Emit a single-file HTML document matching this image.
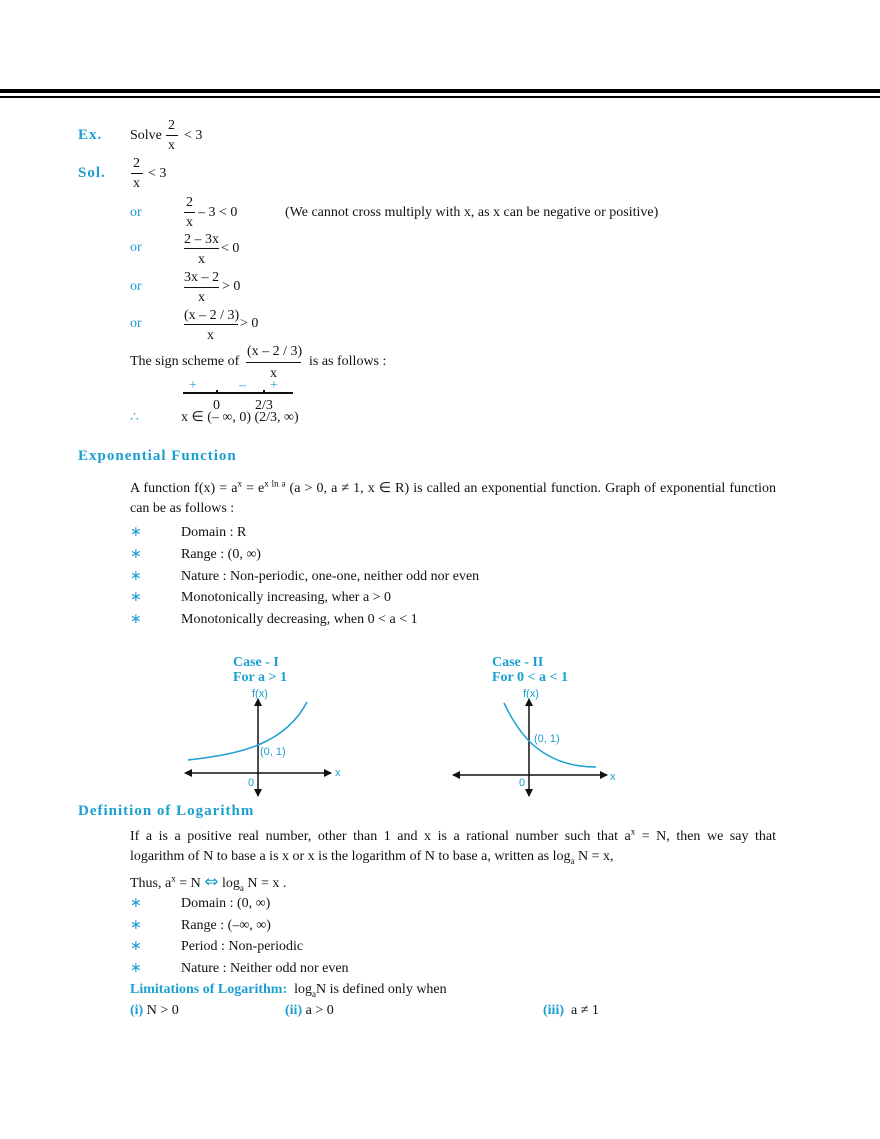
<!DOCTYPE html>
<html><head><meta charset="utf-8"><style>
body{margin:0;width:880px;height:1139px;background:#fff;position:relative;font-family:"Liberation Serif",serif;font-size:14px;color:#111;overflow:hidden}
.t{position:absolute;white-space:nowrap;line-height:16px}
.b{color:#1a9fd0}
.h{color:#1a9fd0;font-weight:bold;letter-spacing:1px;font-size:15px}
.c{color:#1a9fd0;font-weight:bold;font-size:14px}
.l{position:absolute;height:1px;background:#111}
.p{position:absolute;left:130px;width:646px;text-align:justify;text-align-last:justify;line-height:16px}
sup,sub{font-size:9px;line-height:0}
</style></head><body>
<div style="position:absolute;left:0;top:89px;width:880px;height:4px;background:#000"></div>
<div style="position:absolute;left:0;top:96px;width:880px;height:2px;background:#000"></div>

<div class="t h" style="left:78px;top:127px">Ex.</div>
<div class="t" style="left:130px;top:128px">Solve</div>
<div class="t" style="left:168px;top:118px">2</div><div class="l" style="left:166px;top:135px;width:12px"></div><div class="t" style="left:168px;top:138px">x</div>
<div class="t" style="left:184px;top:128px">&lt; 3</div>

<div class="t h" style="left:78px;top:165px">Sol.</div>
<div class="t" style="left:133px;top:156px">2</div><div class="l" style="left:131px;top:173px;width:12px"></div><div class="t" style="left:133px;top:176px">x</div>
<div class="t" style="left:148px;top:166px">&lt; 3</div>

<div class="t b" style="left:130px;top:205px">or</div>
<div class="t" style="left:186px;top:195px">2</div><div class="l" style="left:184px;top:212px;width:11px"></div><div class="t" style="left:186px;top:215px">x</div>
<div class="t" style="left:198px;top:205px">– 3 &lt; 0</div>
<div class="t" style="left:285px;top:205px">(We cannot cross multiply with x, as x can be negative or positive)</div>

<div class="t b" style="left:130px;top:240px">or</div>
<div class="t" style="left:184px;top:232px">2 – 3x</div><div class="l" style="left:184px;top:248px;width:35px"></div><div class="t" style="left:198px;top:252px">x</div>
<div class="t" style="left:221px;top:241px">&lt; 0</div>

<div class="t b" style="left:130px;top:279px">or</div>
<div class="t" style="left:184px;top:270px">3x – 2</div><div class="l" style="left:184px;top:287px;width:35px"></div><div class="t" style="left:198px;top:290px">x</div>
<div class="t" style="left:222px;top:279px">&gt; 0</div>

<div class="t b" style="left:130px;top:316px">or</div>
<div class="t" style="left:184px;top:308px">(x – 2 / 3)</div><div class="l" style="left:184px;top:324px;width:54px"></div><div class="t" style="left:207px;top:328px">x</div>
<div class="t" style="left:240px;top:316px">&gt; 0</div>

<div class="t" style="left:130px;top:354px">The sign scheme of</div>
<div class="t" style="left:247px;top:344px">(x – 2 / 3)</div><div class="l" style="left:246px;top:362px;width:55px"></div><div class="t" style="left:270px;top:366px">x</div>
<div class="t" style="left:309px;top:354px">is as follows :</div>

<div class="t b" style="left:189px;top:378px">+</div>
<div class="t b" style="left:239px;top:378px">–</div>
<div class="t b" style="left:270px;top:378px">+</div>
<div class="l" style="left:183px;top:392px;width:110px;height:1.5px"></div>
<div class="l" style="left:216px;top:390px;width:2px;height:4px"></div>
<div class="l" style="left:263px;top:390px;width:2px;height:4px"></div>
<div class="t" style="left:213px;top:398px">0</div>
<div class="t" style="left:255px;top:398px">2/3</div>
<div class="t b" style="left:130px;top:410px">∴</div>
<div class="t" style="left:181px;top:410px">x ∈ (– ∞, 0) (2/3, ∞)</div>

<div class="t h" style="left:78px;top:448px">Exponential Function</div>
<div class="p" style="top:481px">A function f(x) = a<sup>x</sup> = e<sup>x ln a</sup> (a &gt; 0, a ≠ 1, x ∈ R) is called an exponential function. Graph of exponential function</div>
<div class="t" style="left:130px;top:501px">can be as follows :</div>
<div class="t b" style="left:130px;top:525px">∗</div><div class="t" style="left:181px;top:525px">Domain : R</div>
<div class="t b" style="left:130px;top:547px">∗</div><div class="t" style="left:181px;top:547px">Range : (0, ∞)</div>
<div class="t b" style="left:130px;top:569px">∗</div><div class="t" style="left:181px;top:569px">Nature : Non-periodic, one-one, neither odd nor even</div>
<div class="t b" style="left:130px;top:590px">∗</div><div class="t" style="left:181px;top:590px">Monotonically increasing, wher a &gt; 0</div>
<div class="t b" style="left:130px;top:612px">∗</div><div class="t" style="left:181px;top:612px">Monotonically decreasing, when 0 &lt; a &lt; 1</div>

<div class="t c" style="left:233px;top:655px">Case - I</div>
<div class="t c" style="left:233px;top:670px">For a &gt; 1</div>
<div class="t c" style="left:492px;top:655px">Case - II</div>
<div class="t c" style="left:492px;top:670px">For 0 &lt; a &lt; 1</div>

<svg style="position:absolute;left:0;top:0" width="880" height="1139">
<defs><marker id="a" markerWidth="8" markerHeight="8" refX="7" refY="4" orient="auto" markerUnits="userSpaceOnUse"><path d="M0,0 L8,4 L0,8 Z" fill="#111"/></marker></defs>
<g stroke="#111" stroke-width="1.5">
<line x1="258" y1="720" x2="258" y2="699" marker-end="url(#a)"/><line x1="258" y1="720" x2="258" y2="796" marker-end="url(#a)"/>
<line x1="250" y1="773" x2="185" y2="773" marker-end="url(#a)"/><line x1="250" y1="773" x2="331" y2="773" marker-end="url(#a)"/>
<line x1="529" y1="720" x2="529" y2="699" marker-end="url(#a)"/><line x1="529" y1="720" x2="529" y2="796" marker-end="url(#a)"/>
<line x1="520" y1="775" x2="453" y2="775" marker-end="url(#a)"/><line x1="520" y1="775" x2="607" y2="775" marker-end="url(#a)"/>
</g>
<path d="M188,760 Q235,755 258,745 Q292,731 307,702" fill="none" stroke="#1a9fd0" stroke-width="1.5"/>
<path d="M504,703 Q516,728 530,742 Q556,767 596,767" fill="none" stroke="#1a9fd0" stroke-width="1.5"/>
<g font-family="Liberation Sans,sans-serif" font-size="11" fill="#1a9fd0">
<text x="252" y="697">f(x)</text><text x="260" y="755">(0, 1)</text><text x="248" y="786">0</text><text x="335" y="776">x</text>
<text x="523" y="697">f(x)</text><text x="534" y="742">(0, 1)</text><text x="519" y="786">0</text><text x="610" y="780">x</text>
</g>
</svg>

<div class="t h" style="left:78px;top:803px">Definition of Logarithm</div>
<div class="p" style="top:829px">If a is a positive real number, other than 1 and x is a rational number such that a<sup>x</sup> = N, then we say that</div>
<div class="t" style="left:130px;top:849px">logarithm of N to base a is x or x is the logarithm of N to base a, written as log<sub>a</sub> N = x,</div>
<div class="t" style="left:130px;top:874px">Thus, a<sup>x</sup> = N <span class="b" style="font-size:17px;font-family:'DejaVu Sans',sans-serif">⇔</span> log<sub>a</sub> N = x .</div>
<div class="t b" style="left:130px;top:896px">∗</div><div class="t" style="left:181px;top:896px">Domain : (0, ∞)</div>
<div class="t b" style="left:130px;top:918px">∗</div><div class="t" style="left:181px;top:918px">Range : (–∞, ∞)</div>
<div class="t b" style="left:130px;top:939px">∗</div><div class="t" style="left:181px;top:939px">Period : Non-periodic</div>
<div class="t b" style="left:130px;top:961px">∗</div><div class="t" style="left:181px;top:961px">Nature : Neither odd nor even</div>
<div class="t" style="left:130px;top:982px"><span class="b" style="font-weight:bold">Limitations of Logarithm:</span>&nbsp; log<sub>a</sub>N is defined only when</div>
<div class="t" style="left:130px;top:1003px"><span class="b" style="font-weight:bold">(i)</span> N &gt; 0</div>
<div class="t" style="left:285px;top:1003px"><span class="b" style="font-weight:bold">(ii)</span> a &gt; 0</div>
<div class="t" style="left:543px;top:1003px"><span class="b" style="font-weight:bold">(iii)</span>&nbsp; a ≠ 1</div>
</body></html>
